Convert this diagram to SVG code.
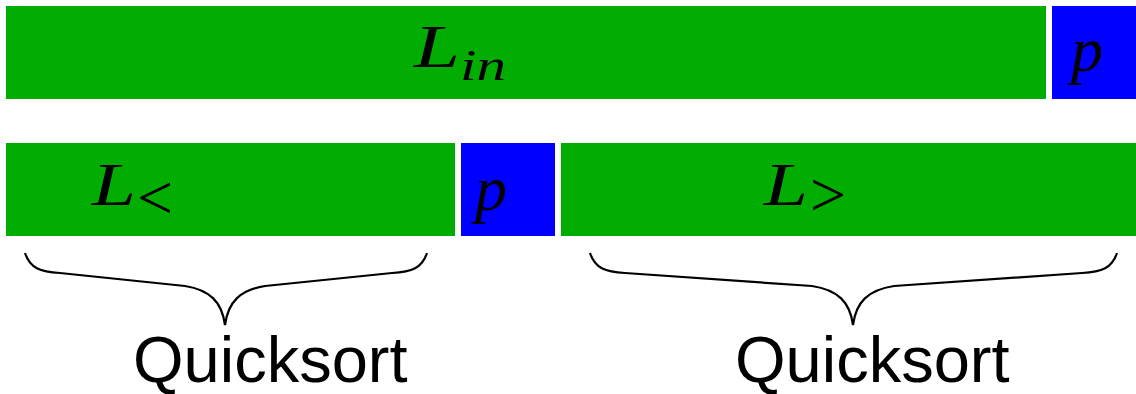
<svg xmlns="http://www.w3.org/2000/svg" width="1136" height="394" viewBox="0 0 1136 394">
<style>
.g{fill:#00ad00}
.b{fill:#0000ff}
.m{font-family:"Liberation Serif",serif;font-style:italic;fill:#000}
.s{font-family:"Liberation Serif",serif;fill:#000}
.q{font-family:"Liberation Sans",Arial,sans-serif;font-size:65px;fill:#000}
.br{fill:none;stroke:#000;stroke-width:2.2}
</style>
<rect width="1136" height="394" fill="#fff"/>
<g id="lin"><rect class="g" x="6" y="6" width="1040" height="93"/>
<text class="m" x="414" y="67" font-size="62" textLength="46" lengthAdjust="spacingAndGlyphs">L</text><text class="m" x="460" y="80" font-size="44" textLength="46" lengthAdjust="spacingAndGlyphs">in</text></g>
<g id="p1"><rect class="b" x="1052" y="6" width="84" height="93"/>
<text class="m" x="1071" y="71" font-size="64">p</text></g>
<g id="lless"><rect class="g" x="6" y="143" width="449" height="93"/>
<text class="m" x="92" y="205" font-size="62" textLength="44" lengthAdjust="spacingAndGlyphs">L</text><text class="s" x="137" y="219" font-size="64">&lt;</text></g>
<g id="p2"><rect class="b" x="461" y="143" width="94" height="93"/>
<text class="m" x="475" y="210" font-size="64">p</text></g>
<g id="lgreater"><rect class="g" x="561" y="143" width="575" height="93"/>
<text class="m" x="764" y="205" font-size="62" textLength="44" lengthAdjust="spacingAndGlyphs">L</text><text class="s" x="810" y="216" font-size="64">&gt;</text></g>
<g id="connectors">
<path class="br" d="M25,253 C30,268 40,272 60,273 L185,286 C210,290 222,302 225,325 C228,302 240,290 265,286 L392,273 C412,272 422,268 427,253"/>
<path class="br" d="M590,253 C595,268 605,272 625,273 L812,286 C838,290 850,302 853,325 C856,302 868,290 894,286 L1082,273 C1102,272 1112,268 1117,253"/>
</g>
<text class="q" x="133" y="382">Quicksort</text>
<text class="q" x="735" y="382">Quicksort</text>
</svg>
